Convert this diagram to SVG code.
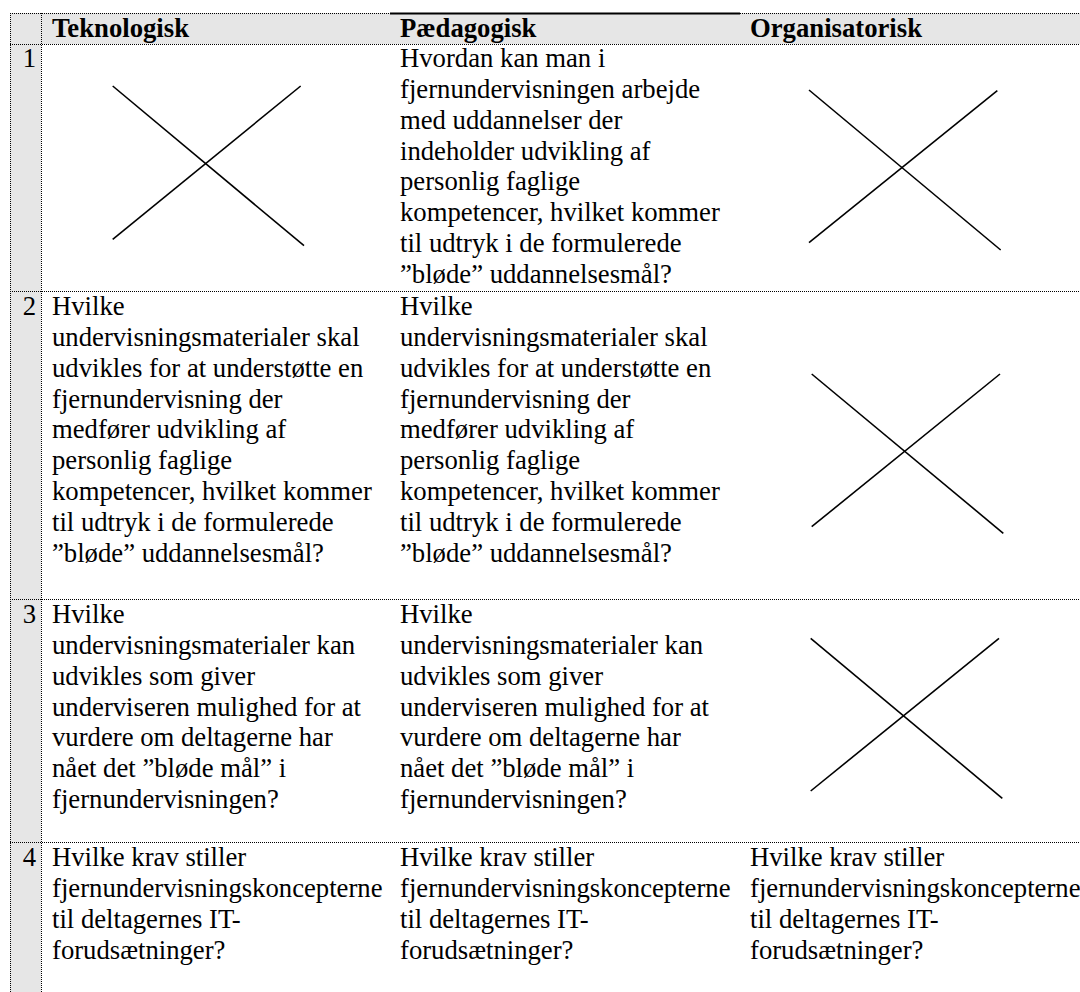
<svg xmlns="http://www.w3.org/2000/svg" width="1080" height="992" viewBox="0 0 1080 992">
<style>
  text { font-family: "Liberation Serif", "Times New Roman", serif; font-size: 26.7px; fill: #000; }
  .hd { font-weight: bold; }
  .num { text-anchor: end; }
  .grid { stroke: #000; stroke-width: 1; stroke-dasharray: 1 1; fill: none; }
  .x { stroke: #000; stroke-width: 1.6; stroke-linecap: butt; }
</style>
<rect width="1080" height="992" fill="#fff"/>
<g id="shading">
  <rect x="10" y="13" width="31" height="979" fill="#e6e6e6"/>
  <rect x="41" y="13" width="1039" height="31" fill="#e6e6e6"/>
</g>
<g id="connectors">
  <line class="grid" x1="10" y1="13.5" x2="1080" y2="13.5"/>
  <line x1="390" y1="13.5" x2="740" y2="13.5" stroke="#000" stroke-width="2"/>
  <line class="grid" x1="10" y1="44.5" x2="1080" y2="44.5"/>
  <line class="grid" x1="10" y1="291.5" x2="1080" y2="291.5"/>
  <line class="grid" x1="10" y1="599.5" x2="1080" y2="599.5"/>
  <line class="grid" x1="10" y1="842.5" x2="1080" y2="842.5"/>
  <line class="grid" x1="10.5" y1="13" x2="10.5" y2="992"/>
  <line class="grid" x1="41.5" y1="13" x2="41.5" y2="992"/>
</g>
<g id="header">
  <text class="hd" x="52" y="37">Teknologisk</text>
  <text class="hd" x="400" y="37">Pædagogisk</text>
  <text class="hd" x="750" y="37">Organisatorisk</text>
</g>
<g id="row1">
  <text class="num" x="36" y="67">1</text>
  <g id="r1-tek">
    <line class="x" x1="112.7" y1="86" x2="304" y2="245.7"/>
    <line class="x" x1="300.7" y1="86" x2="112.7" y2="239.3"/>
  </g>
  <text id="r1-paed" x="400" y="67"><tspan x="400">Hvordan kan man i</tspan><tspan x="400" dy="30.85">fjernundervisningen arbejde</tspan><tspan x="400" dy="30.85">med uddannelser der</tspan><tspan x="400" dy="30.85">indeholder udvikling af</tspan><tspan x="400" dy="30.85">personlig faglige</tspan><tspan x="400" dy="30.85">kompetencer, hvilket kommer</tspan><tspan x="400" dy="30.85">til udtryk i de formulerede</tspan><tspan x="400" dy="30.85">”bløde” uddannelsesmål?</tspan></text>
  <g id="r1-org">
    <line class="x" x1="809" y1="90" x2="1000.7" y2="250"/>
    <line class="x" x1="997.3" y1="90.7" x2="809" y2="242.7"/>
  </g>
</g>
<g id="row2">
  <text class="num" x="36" y="315">2</text>
  <text id="r2-tek" x="52" y="315"><tspan x="52">Hvilke</tspan><tspan x="52" dy="30.85">undervisningsmaterialer skal</tspan><tspan x="52" dy="30.85">udvikles for at understøtte en</tspan><tspan x="52" dy="30.85">fjernundervisning der</tspan><tspan x="52" dy="30.85">medfører udvikling af</tspan><tspan x="52" dy="30.85">personlig faglige</tspan><tspan x="52" dy="30.85">kompetencer, hvilket kommer</tspan><tspan x="52" dy="30.85">til udtryk i de formulerede</tspan><tspan x="52" dy="30.85">”bløde” uddannelsesmål?</tspan></text>
  <text id="r2-paed" x="400" y="315"><tspan x="400">Hvilke</tspan><tspan x="400" dy="30.85">undervisningsmaterialer skal</tspan><tspan x="400" dy="30.85">udvikles for at understøtte en</tspan><tspan x="400" dy="30.85">fjernundervisning der</tspan><tspan x="400" dy="30.85">medfører udvikling af</tspan><tspan x="400" dy="30.85">personlig faglige</tspan><tspan x="400" dy="30.85">kompetencer, hvilket kommer</tspan><tspan x="400" dy="30.85">til udtryk i de formulerede</tspan><tspan x="400" dy="30.85">”bløde” uddannelsesmål?</tspan></text>
  <g id="r2-org">
    <line class="x" x1="811.7" y1="374" x2="1003.3" y2="533.3"/>
    <line class="x" x1="1000" y1="374" x2="811.7" y2="526.7"/>
  </g>
</g>
<g id="row3">
  <text class="num" x="36" y="623">3</text>
  <text id="r3-tek" x="52" y="623"><tspan x="52">Hvilke</tspan><tspan x="52" dy="30.85">undervisningsmaterialer kan</tspan><tspan x="52" dy="30.85">udvikles som giver</tspan><tspan x="52" dy="30.85">underviseren mulighed for at</tspan><tspan x="52" dy="30.85">vurdere om deltagerne har</tspan><tspan x="52" dy="30.85">nået det ”bløde mål” i</tspan><tspan x="52" dy="30.85">fjernundervisningen?</tspan></text>
  <text id="r3-paed" x="400" y="623"><tspan x="400">Hvilke</tspan><tspan x="400" dy="30.85">undervisningsmaterialer kan</tspan><tspan x="400" dy="30.85">udvikles som giver</tspan><tspan x="400" dy="30.85">underviseren mulighed for at</tspan><tspan x="400" dy="30.85">vurdere om deltagerne har</tspan><tspan x="400" dy="30.85">nået det ”bløde mål” i</tspan><tspan x="400" dy="30.85">fjernundervisningen?</tspan></text>
  <g id="r3-org">
    <line class="x" x1="810.7" y1="638.3" x2="1002.3" y2="798.3"/>
    <line class="x" x1="999" y1="638.3" x2="810.7" y2="791"/>
  </g>
</g>
<g id="row4">
  <text class="num" x="36" y="866">4</text>
  <text id="r4-tek" x="52" y="866"><tspan x="52">Hvilke krav stiller</tspan><tspan x="52" dy="30.85">fjernundervisningskoncepterne</tspan><tspan x="52" dy="30.85">til deltagernes IT-</tspan><tspan x="52" dy="30.85">forudsætninger?</tspan></text>
  <text id="r4-paed" x="400" y="866"><tspan x="400">Hvilke krav stiller</tspan><tspan x="400" dy="30.85">fjernundervisningskoncepterne</tspan><tspan x="400" dy="30.85">til deltagernes IT-</tspan><tspan x="400" dy="30.85">forudsætninger?</tspan></text>
  <text id="r4-org" x="750" y="866"><tspan x="750">Hvilke krav stiller</tspan><tspan x="750" dy="30.85">fjernundervisningskoncepterne</tspan><tspan x="750" dy="30.85">til deltagernes IT-</tspan><tspan x="750" dy="30.85">forudsætninger?</tspan></text>
</g>
</svg>
